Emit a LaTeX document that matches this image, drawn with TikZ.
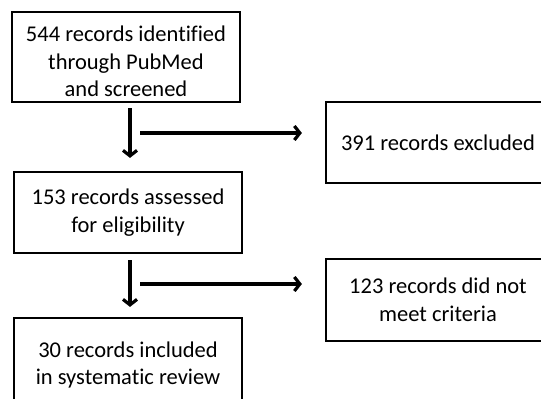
\documentclass[tikz,border=0pt]{standalone}
\usepackage{fontspec}
\setmainfont{Carlito}[Ligatures=NoCommon]
\usetikzlibrary{arrows.meta,positioning,calc}

\begin{document}
\begin{tikzpicture}[
  x=1pt,y=1pt,
  flow/.style={
    -{Straight Barb[length=5.5pt,width=14pt]},
    line width=3.2pt,
    draw=black
  },
  stagebox/.style={
    draw=black,
    line width=2.2pt,
    fill=white,
    align=center,
    inner sep=0pt,
    font=\fontsize{22.5}{27.5}\selectfont
  }
]
\useasboundingbox (0,0) rectangle (541,-399);

% -------------------------------------------------
% Main column
% -------------------------------------------------
\node[stagebox, minimum width=228pt, minimum height=90pt] (ident) at (126,-57)
{\rule{0pt}{25pt}544 records identified\\through PubMed\\and screened};

\node[stagebox, minimum width=228pt, minimum height=81pt] (assess) at (128,-212.5)
{153 records assessed\\for eligibility};

\node[stagebox, minimum width=228pt, minimum height=94pt] (incl) at (128,-365)
{30 records included\\in systematic review};

% -------------------------------------------------
% Excluded boxes
% -------------------------------------------------
\node[stagebox, minimum width=224pt, minimum height=81pt] (excl) at (438,-142.5)
{391 records excluded};

\node[stagebox, minimum width=224pt, minimum height=82pt] (notmet) at (438,-300)
{123 records did not\\meet criteria};

% -------------------------------------------------
% Connectors
% -------------------------------------------------
\coordinate (split1) at (140,-133);
\coordinate (split2) at (140,-284);

\draw[flow, shorten <=5pt, shorten >=13pt] ([xshift=4pt]ident.south) -- ([xshift=2pt]assess.north);
\draw[flow, shorten <=6pt, shorten >=10pt] ([xshift=2pt]assess.south) -- ([xshift=2pt]incl.north);

\draw[flow, shorten >=23pt] (split1) -- (split1 -| excl.west);
\draw[flow, shorten >=23pt] (split2) -- (split2 -| notmet.west);

\end{tikzpicture}
\end{document}
